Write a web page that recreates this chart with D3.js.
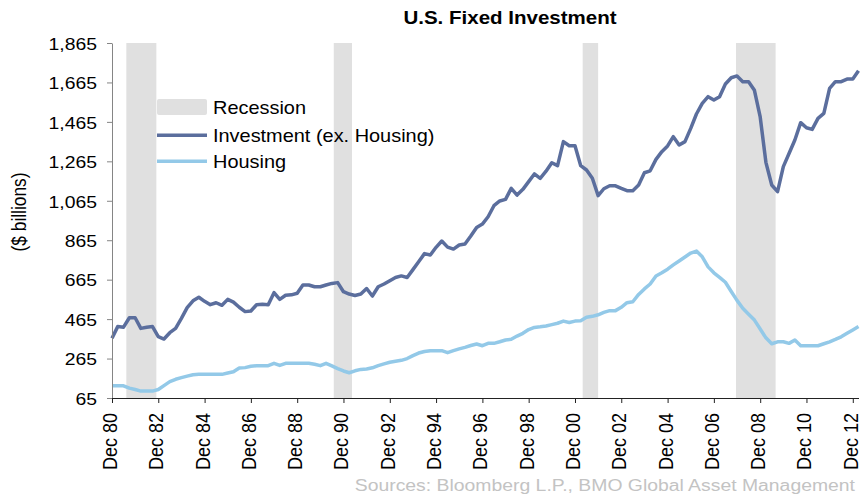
<!DOCTYPE html>
<html><head><meta charset="utf-8">
<script src="https://cdn.jsdelivr.net/npm/d3@7"></script>
<style>
html,body{margin:0;padding:0;background:#fff;}
svg{display:block;font-family:"Liberation Sans",Arial,sans-serif;}
</style></head>
<body>
<script>
// ---------------- data ----------------
const firstQuarter = "1980-12-01";   // Dec 80, quarterly observations
const investment = [368,427,424,472,472,418,424,427,376,364,396,418,469,523,558,576,555,538,548,535,
565,551,525,503,506,538,540,538,599,565,586,588,596,638,638,629,629,638,646,650,
604,592,585,592,620,582,629,643,660,676,684,676,716,756,797,790,829,861,830,820,
841,846,886,930,947,984,1040,1064,1072,1128,1094,1123,1162,1201,1179,1215,1258,1243,1365,1344,
1344,1243,1221,1179,1091,1126,1141,1141,1128,1116,1116,1145,1207,1217,1275,1314,1343,1390,1348,1365,
1432,1505,1559,1593,1576,1593,1657,1689,1698,1669,1669,1625,1490,1260,1145,1111,1238,1305,1373,1461,
1435,1427,1483,1508,1635,1669,1669,1682,1682,1724];
const housing = [127,127,127,115,108,100,100,100,108,128,148,160,168,176,183,185,185,185,185,185,
192,198,217,219,226,229,229,229,241,230,241,241,241,241,241,236,229,241,228,214,
202,193,203,210,212,218,229,238,246,251,256,265,280,293,301,305,305,305,295,305,
314,322,331,339,330,342,342,350,359,363,379,393,412,423,426,430,437,444,455,448,
455,457,474,479,487,499,508,508,525,548,553,590,618,643,684,700,718,740,760,780,
800,810,781,730,700,677,652,605,560,520,490,460,415,370,340,350,350,342,359,330,
330,330,330,340,350,362,375,393,410,427];
const recessionStart = ["1981-07-15","1990-07-01","2001-04-01","2007-11-15"];
const recessionEnd   = ["1982-11-01","1991-04-15","2001-12-01","2009-08-01"];
const xTickDates  = ["1980-12-01","1982-12-01","1984-12-01","1986-12-01","1988-12-01","1990-12-01","1992-12-01","1994-12-01",
                     "1996-12-01","1998-12-01","2000-12-01","2002-12-01","2004-12-01","2006-12-01","2008-12-01","2010-12-01","2012-12-01"];
const xTickLabels = ["Dec 80","Dec 82","Dec 84","Dec 86","Dec 88","Dec 90","Dec 92","Dec 94",
                     "Dec 96","Dec 98","Dec 00","Dec 02","Dec 04","Dec 06","Dec 08","Dec 10","Dec 12"];
const yTicks = [65,265,465,665,865,1065,1265,1465,1665,1865];
const seriesNames = ["Recession","Investment (ex. Housing)","Housing"];
const titleText = "U.S. Fixed Investment";
const yTitle = "($ billions)";
const sourceText = "Sources: Bloomberg L.P., BMO Global Asset Management";

// ---------------- layout ----------------
const W = 861, H = 495;
const pL = 112, pR = 858.5, pT = 43, pB = 398;
const SX = 1.12; // horizontal text stretch
const colInv = "#5b6e9d", colHou = "#93c9e8", colRec = "#e0e0e0";

const parse = d3.timeParse("%Y-%m-%d");
const start = parse(firstQuarter);
const dates = investment.map((_, i) => d3.timeMonth.offset(start, 3 * i));

const x = d3.scaleTime().domain([start, dates[dates.length - 1]]).range([pL, pR]);
const y = d3.scaleLinear().domain([65, 1865]).range([pB, pT]);

const svg = d3.select("body").append("svg").attr("width", W).attr("height", H);

// recession bars
svg.append("g").selectAll("rect").data(recessionStart.map((s, i) => [parse(s), parse(recessionEnd[i])]))
  .join("rect")
  .attr("x", d => x(d[0])).attr("width", d => x(d[1]) - x(d[0]))
  .attr("y", y(1865)).attr("height", y(65) - y(1865))
  .attr("fill", colRec);

// lines
const line = d3.line().x((d, i) => x(dates[i])).y(d => y(d));
svg.append("path").datum(housing).attr("d", line)
  .attr("fill", "none").attr("stroke", colHou).attr("stroke-width", 3.5).attr("stroke-linejoin", "round");
svg.append("path").datum(investment).attr("d", line)
  .attr("fill", "none").attr("stroke", colInv).attr("stroke-width", 3.5).attr("stroke-linejoin", "round");

// y axis
const yAxis = svg.append("g").attr("transform", `translate(${pL},0)`)
  .call(d3.axisLeft(y).tickValues(yTicks).tickSize(5).tickSizeOuter(0).tickFormat(d3.format(",")));
yAxis.select(".domain").attr("stroke", "#858585");
yAxis.selectAll(".tick line").attr("stroke", "#858585");
yAxis.selectAll(".tick text")
  .attr("font-size", 17.3).attr("fill", "#000").attr("font-family", "Liberation Sans, Arial, sans-serif")
  .attr("x", -15 / SX).attr("dy", "0.36em")
  .attr("transform", `scale(${SX},1)`);

// x axis
const xAxis = svg.append("g").attr("transform", `translate(0,${pB})`)
  .call(d3.axisBottom(x).tickValues(xTickDates.map(parse)).tickSize(5).tickSizeOuter(0)
        .tickFormat((d, i) => xTickLabels[i]));
xAxis.select(".domain").attr("stroke", "#222");
xAxis.selectAll(".tick line").attr("stroke", "#222");
xAxis.selectAll(".tick text")
  .attr("font-size", 18).attr("fill", "#000").attr("font-family", "Liberation Sans, Arial, sans-serif")
  .attr("text-anchor", "end").attr("x", 0).attr("y", 0).attr("dy", 0)
  .attr("transform", `translate(4.5,15) rotate(-90) scale(1,1.08)`);

// helper for stretched horizontal text
function htext(xp, yp, txt, opt = {}) {
  const g = svg.append("g").attr("transform", `translate(${xp},${yp}) scale(${opt.sx || SX},1)`);
  g.append("text").text(txt)
    .attr("font-size", opt.size || 17.5)
    .attr("font-weight", opt.weight || "normal")
    .attr("fill", opt.fill || "#000")
    .attr("text-anchor", opt.anchor || "start");
  return g;
}

// title
htext(510, 24, titleText, {size: 19, weight: "bold", anchor: "middle", sx: 1.08});

// y title
svg.append("g").attr("transform", `translate(26,212) rotate(-90) scale(1,${SX})`)
  .append("text").text(yTitle).attr("font-size", 17.3).attr("text-anchor", "middle").attr("fill", "#000");

// legend
const legY = [107, 135.3, 161.3];
svg.append("rect").attr("x", 157).attr("y", legY[0] - 8).attr("width", 50).attr("height", 16).attr("rx", 2).attr("fill", colRec);
svg.append("line").attr("x1", 157).attr("x2", 207).attr("y1", legY[1]).attr("y2", legY[1]).attr("stroke", colInv).attr("stroke-width", 3.5);
svg.append("line").attr("x1", 157).attr("x2", 207).attr("y1", legY[2]).attr("y2", legY[2]).attr("stroke", colHou).attr("stroke-width", 3.5);
seriesNames.forEach((n, i) => htext(213, legY[i] + 6.5, n, {size: 17.8}));

// source
htext(855, 491, sourceText, {size: 17.3, anchor: "end", fill: "#c3c3c3"});
</script>
</body></html>
